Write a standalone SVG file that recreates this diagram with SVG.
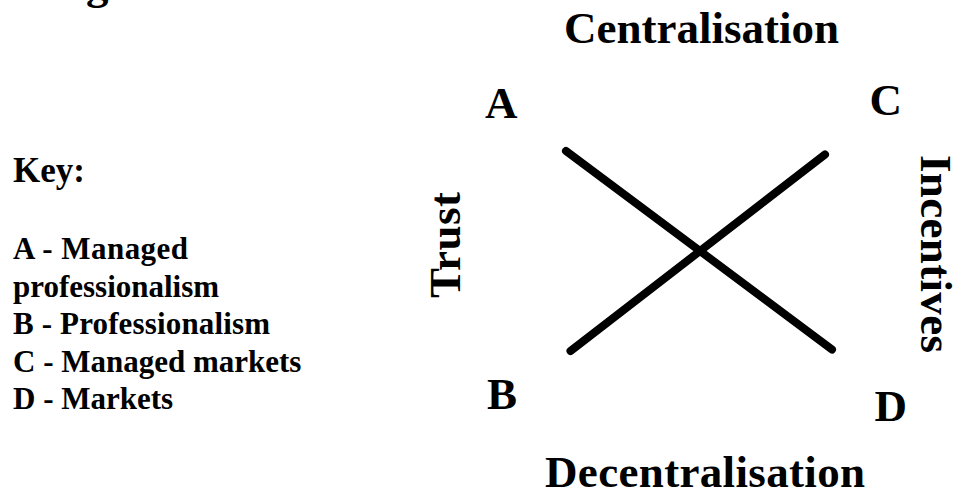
<svg xmlns="http://www.w3.org/2000/svg" width="958" height="492" viewBox="0 0 958 492">
<style>
text{font-family:"Liberation Serif","Times New Roman",serif;font-weight:bold;fill:#000}
.key{font-size:31px}
.big{font-size:45px}
.ax{stroke:#000;stroke-width:8;stroke-linecap:round;fill:none}
</style>
<rect width="958" height="492" fill="#fff"/>
<g id="title-fragment"><text x="86" y="-1" class="big">g</text></g>
<g id="key">
<text x="13" y="182" style="font-size:35px">Key:</text>
<text x="13" y="259" class="key" textLength="175">A - Managed</text>
<text x="13" y="296.5" class="key">professionalism</text>
<text x="13" y="334" class="key" textLength="257">B - Professionalism</text>
<text x="13" y="371.5" class="key">C - Managed markets</text>
<text x="13" y="409" class="key">D - Markets</text>
</g>
<g id="centralisation"><text x="564" y="43" class="big" textLength="275">Centralisation</text></g>
<g id="decentralisation"><text x="545" y="487" class="big" textLength="320">Decentralisation</text></g>
<g id="trust"><text transform="translate(460,298) rotate(-90)" class="big" textLength="106">Trust</text></g>
<g id="incentives"><text transform="translate(921,155) rotate(90)" class="big" textLength="198">Incentives</text></g>
<g id="A"><text x="485" y="118" class="big">A</text></g>
<g id="B"><text x="487" y="408.5" class="big">B</text></g>
<g id="C"><text x="869.5" y="115" class="big">C</text></g>
<g id="D"><text x="874.5" y="421" class="big">D</text></g>
<g id="connectors">
<line class="ax" x1="566" y1="151" x2="832" y2="349.5"/>
<line class="ax" x1="825" y1="154.5" x2="570.5" y2="351"/>
</g>
</svg>
